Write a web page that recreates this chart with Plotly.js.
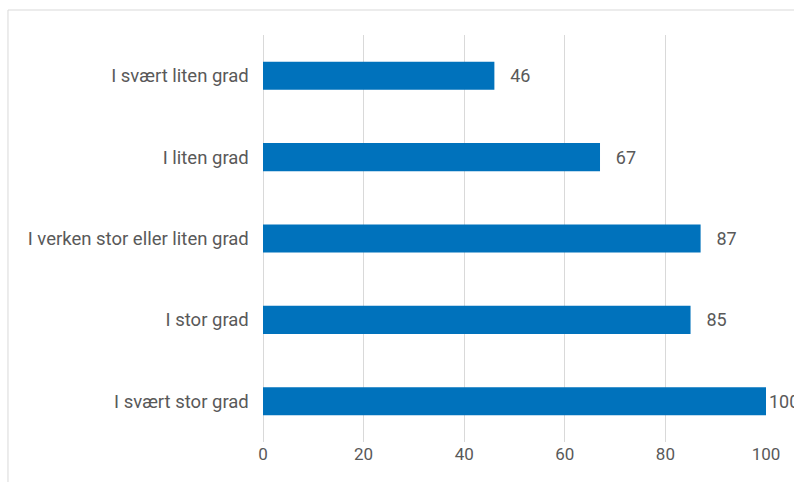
<!DOCTYPE html>
<html>
<head>
<meta charset="utf-8">
<script src="https://cdn.plot.ly/plotly-3.0.1.min.js"></script>
<style>html,body{margin:0;padding:0;background:#fff;}#chart{width:794px;height:482px;}</style>
</head>
<body>
<div id="chart"></div>
<script>
const categories = ["I svært liten grad", "I liten grad", "I verken stor eller liten grad", "I stor grad", "I svært stor grad"];
const values = [46, 67, 87, 85, 100];
const tickVals = [0, 20, 40, 60, 80, 100];

const trace = {
  type: 'bar',
  orientation: 'h',
  y: categories,
  x: values,
  marker: {color: '#0072BC'},
  width: 0.345,
  texttemplate: values.map(v => v >= 100 ? '%{x}' : '\u2002\u2009%{x}'),
  textposition: 'outside',
  cliponaxis: false,
  textfont: {family: 'Roboto, sans-serif', size: 18, color: '#595959'},
  hoverinfo: 'none'
};

const layout = {
  width: 794, height: 482,
  margin: {l: 263, r: 28, t: 35, b: 40},
  paper_bgcolor: '#fff', plot_bgcolor: '#fff',
  showlegend: false,
  font: {family: 'Roboto, sans-serif', size: 17, color: '#595959'},
  xaxis: {
    range: [0, 100], tickvals: tickVals, showgrid: true, gridcolor: '#d9d9d9', gridwidth: 1,
    zeroline: true, zerolinecolor: '#d9d9d9', showline: false, ticks: '', ticklen: 0,
    tickfont: {size: 17, color: '#595959'}, fixedrange: true
  },
  yaxis: {
    autorange: 'reversed', showgrid: false, zeroline: false, showline: false, ticks: '',
    ticksuffix: '\u2002\u2009', tickfont: {size: 18.5, color: '#595959'}
  },
  shapes: [{
    type: 'rect', xref: 'paper', yref: 'paper',
    x0: -0.507, x1: 1.2, y0: -0.3, y1: 1.0614,
    line: {color: '#d9d9d9', width: 1}
  }]
};

Plotly.newPlot('chart', [trace], layout, {displayModeBar: false, staticPlot: true});
</script>
</body>
</html>
